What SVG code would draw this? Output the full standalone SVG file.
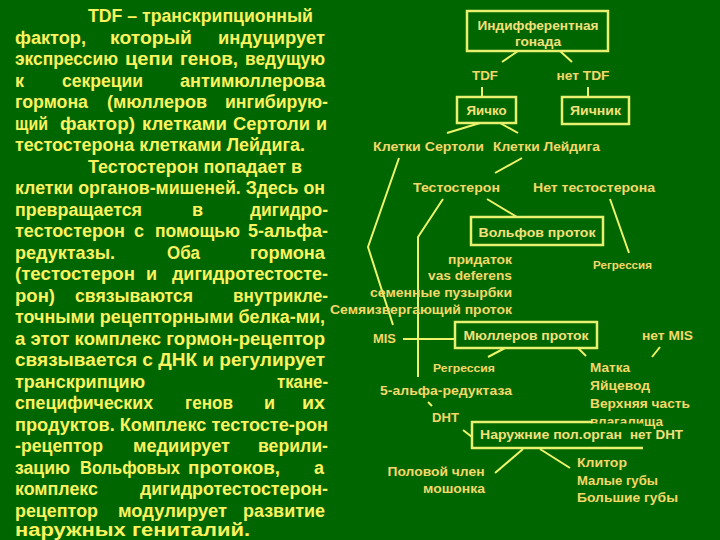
<svg xmlns="http://www.w3.org/2000/svg" width="720" height="540" viewBox="0 0 720 540">
<style>
text{font-family:"Liberation Sans",Arial,sans-serif;font-weight:bold}
.t{font-size:18px;fill:#fbf45e}
.l{font-size:13px;fill:#f4d868}
.s{font-size:11px;fill:#f4d868}
.bt{font-size:13.5px;fill:#f4e07a}
.m{text-anchor:middle}
.e{text-anchor:end}
.box{fill:#006600;stroke:#e8f070;stroke-width:2.5}
.ln{fill:none;stroke:#eef56a;stroke-width:2}
</style>
<rect width="720" height="540" fill="#006600"/>

<g id="explanation">
<text class="t" x="88" y="22" textLength="225" lengthAdjust="spacingAndGlyphs">TDF – транскрипционный</text>
<text class="t" x="15" y="43.5" textLength="71" lengthAdjust="spacingAndGlyphs">фактор,</text>
<text class="t" x="110" y="43.5" textLength="82" lengthAdjust="spacingAndGlyphs">который</text>
<text class="t" x="218" y="43.5" textLength="107" lengthAdjust="spacingAndGlyphs">индуцирует</text>
<text class="t" x="15" y="65" textLength="103" lengthAdjust="spacingAndGlyphs">экспрессию</text>
<text class="t" x="125" y="65" textLength="48" lengthAdjust="spacingAndGlyphs">цепи</text>
<text class="t" x="180" y="65" textLength="58" lengthAdjust="spacingAndGlyphs">генов,</text>
<text class="t" x="245" y="65" textLength="80" lengthAdjust="spacingAndGlyphs">ведущую</text>
<text class="t" x="15" y="86.5">к</text>
<text class="t" x="62" y="86.5" textLength="81" lengthAdjust="spacingAndGlyphs">секреции</text>
<text class="t" x="180" y="86.5" textLength="145" lengthAdjust="spacingAndGlyphs">антимюллерова</text>
<text class="t" x="15" y="108" textLength="73" lengthAdjust="spacingAndGlyphs">гормона</text>
<text class="t" x="107" y="108" textLength="100" lengthAdjust="spacingAndGlyphs">(мюллеров</text>
<text class="t" x="225" y="108" textLength="103" lengthAdjust="spacingAndGlyphs">ингибирую-</text>
<text class="t" x="15" y="129.5" textLength="33" lengthAdjust="spacingAndGlyphs">щий</text>
<text class="t" x="60" y="129.5" textLength="75" lengthAdjust="spacingAndGlyphs">фактор)</text>
<text class="t" x="142" y="129.5" textLength="85" lengthAdjust="spacingAndGlyphs">клетками</text>
<text class="t" x="233" y="129.5" textLength="77" lengthAdjust="spacingAndGlyphs">Сертоли</text>
<text class="t" x="316" y="129.5">и</text>
<text class="t" x="15" y="151" textLength="290" lengthAdjust="spacingAndGlyphs">тестостерона клетками Лейдига.</text>
<text class="t" x="88" y="172.5" textLength="214" lengthAdjust="spacingAndGlyphs">Тестостерон попадает в</text>
<text class="t" x="15" y="194" textLength="310" lengthAdjust="spacingAndGlyphs">клетки органов-мишеней. Здесь он</text>
<text class="t" x="15" y="215.5" textLength="127" lengthAdjust="spacingAndGlyphs">превращается</text>
<text class="t" x="192" y="215.5">в</text>
<text class="t" x="250" y="215.5" textLength="78" lengthAdjust="spacingAndGlyphs">дигидро-</text>
<text class="t" x="15" y="237" textLength="110" lengthAdjust="spacingAndGlyphs">тестостерон</text>
<text class="t" x="134" y="237">с</text>
<text class="t" x="155" y="237" textLength="85" lengthAdjust="spacingAndGlyphs">помощью</text>
<text class="t" x="248" y="237" textLength="80" lengthAdjust="spacingAndGlyphs">5-альфа-</text>
<text class="t" x="15" y="258.5" textLength="100" lengthAdjust="spacingAndGlyphs">редуктазы.</text>
<text class="t" x="167" y="258.5" textLength="33" lengthAdjust="spacingAndGlyphs">Оба</text>
<text class="t" x="250" y="258.5" textLength="75" lengthAdjust="spacingAndGlyphs">гормона</text>
<text class="t" x="15" y="280" textLength="120" lengthAdjust="spacingAndGlyphs">(тестостерон</text>
<text class="t" x="146" y="280">и</text>
<text class="t" x="172" y="280" textLength="156" lengthAdjust="spacingAndGlyphs">дигидротестосте-</text>
<text class="t" x="15" y="301.5" textLength="40" lengthAdjust="spacingAndGlyphs">рон)</text>
<text class="t" x="75" y="301.5" textLength="118" lengthAdjust="spacingAndGlyphs">связываются</text>
<text class="t" x="233" y="301.5" textLength="95" lengthAdjust="spacingAndGlyphs">внутрикле-</text>
<text class="t" x="15" y="323" textLength="310" lengthAdjust="spacingAndGlyphs">точными рецепторными белка-ми,</text>
<text class="t" x="15" y="344.5" textLength="310" lengthAdjust="spacingAndGlyphs">а этот комплекс гормон-рецептор</text>
<text class="t" x="15" y="366" textLength="310" lengthAdjust="spacingAndGlyphs">связывается с ДНК и регулирует</text>
<text class="t" x="15" y="387.5" textLength="130" lengthAdjust="spacingAndGlyphs">транскрипцию</text>
<text class="t" x="277" y="387.5" textLength="51" lengthAdjust="spacingAndGlyphs">ткане-</text>
<text class="t" x="15" y="409" textLength="138" lengthAdjust="spacingAndGlyphs">специфических</text>
<text class="t" x="185" y="409" textLength="48" lengthAdjust="spacingAndGlyphs">генов</text>
<text class="t" x="264" y="409">и</text>
<text class="t" x="302" y="409" textLength="23" lengthAdjust="spacingAndGlyphs">их</text>
<text class="t" x="15" y="430.5" textLength="313" lengthAdjust="spacingAndGlyphs">продуктов. Комплекс тестосте-рон</text>
<text class="t" x="15" y="452" textLength="88" lengthAdjust="spacingAndGlyphs">-рецептор</text>
<text class="t" x="133" y="452" textLength="97" lengthAdjust="spacingAndGlyphs">медиирует</text>
<text class="t" x="258" y="452" textLength="70" lengthAdjust="spacingAndGlyphs">верили-</text>
<text class="t" x="15" y="473.5" textLength="55" lengthAdjust="spacingAndGlyphs">зацию</text>
<text class="t" x="80" y="473.5" textLength="100" lengthAdjust="spacingAndGlyphs">Вольфовых</text>
<text class="t" x="188" y="473.5" textLength="92" lengthAdjust="spacingAndGlyphs">протоков,</text>
<text class="t" x="314" y="473.5">а</text>
<text class="t" x="15" y="495" textLength="83" lengthAdjust="spacingAndGlyphs">комплекс</text>
<text class="t" x="140" y="495" textLength="188" lengthAdjust="spacingAndGlyphs">дигидротестостерон-</text>
<text class="t" x="15" y="516.5" textLength="83" lengthAdjust="spacingAndGlyphs">рецептор</text>
<text class="t" x="118" y="516.5" textLength="109" lengthAdjust="spacingAndGlyphs">модулирует</text>
<text class="t" x="243" y="516.5" textLength="82" lengthAdjust="spacingAndGlyphs">развитие</text>
<text class="t" x="15" y="535.5" textLength="235" lengthAdjust="spacingAndGlyphs">наружных гениталий.</text>
</g>

<g id="connectors">
<line class="ln" x1="518" y1="51" x2="502" y2="62"/>
<line class="ln" x1="560" y1="51" x2="572" y2="62"/>
<line class="ln" x1="482" y1="87" x2="482" y2="97"/>
<line class="ln" x1="588" y1="87" x2="588" y2="97"/>
<line class="ln" x1="480" y1="123" x2="447" y2="133"/>
<line class="ln" x1="500" y1="123" x2="518" y2="133"/>
<line class="ln" x1="522" y1="158" x2="495" y2="173"/>
<polyline class="ln" points="399,158 368,247 393,325"/>
<line class="ln" x1="487" y1="199" x2="517" y2="217"/>
<polyline class="ln" points="443,199 418,237 418,377"/>
<line class="ln" x1="610" y1="199" x2="629" y2="253"/>
<line class="ln" x1="403" y1="339" x2="455" y2="339"/>
<line class="ln" x1="660" y1="347" x2="652" y2="357"/>
<line class="ln" x1="505" y1="348" x2="488" y2="357"/>
<line class="ln" x1="578" y1="348" x2="586" y2="356"/>
<line class="ln" x1="428" y1="402" x2="432" y2="406"/>
<line class="ln" x1="463" y1="430" x2="472" y2="437"/>
<line class="ln" x1="523" y1="449" x2="495" y2="473"/>
<line class="ln" x1="540" y1="449" x2="570" y2="468"/>
</g>

<g id="gonad">
<rect class="box" x="467" y="11" width="141" height="40"/>
<text class="bt m" x="538" y="30" textLength="121" lengthAdjust="spacingAndGlyphs">Индифферентная</text>
<text class="bt m" x="538" y="46" textLength="46" lengthAdjust="spacingAndGlyphs">гонада</text>
</g>
<g id="tdf"><text class="l m" x="485" y="80" textLength="26" lengthAdjust="spacingAndGlyphs">TDF</text></g>
<g id="no-tdf"><text class="l m" x="583" y="80" textLength="53" lengthAdjust="spacingAndGlyphs">нет TDF</text></g>
<g id="testis">
<rect class="box" x="457" y="97" width="59" height="26"/>
<text class="bt m" x="486.5" y="115" textLength="40" lengthAdjust="spacingAndGlyphs">Яичко</text>
</g>
<g id="ovary">
<rect class="box" x="562" y="97" width="67" height="27"/>
<text class="bt m" x="595.5" y="115" textLength="51" lengthAdjust="spacingAndGlyphs">Яичник</text>
</g>
<g id="sertoli"><text class="l" x="373" y="151" textLength="111" lengthAdjust="spacingAndGlyphs">Клетки Сертоли</text></g>
<g id="leydig"><text class="l" x="493" y="151" textLength="107" lengthAdjust="spacingAndGlyphs">Клетки Лейдига</text></g>
<g id="testosterone"><text class="l" x="413" y="192" textLength="87" lengthAdjust="spacingAndGlyphs">Тестостерон</text></g>
<g id="no-testosterone"><text class="l" x="533" y="192" textLength="122" lengthAdjust="spacingAndGlyphs">Нет тестостерона</text></g>
<g id="wolff">
<rect class="box" x="471" y="217" width="132" height="28"/>
<text class="bt m" x="537" y="237" textLength="117" lengthAdjust="spacingAndGlyphs">Вольфов проток</text>
</g>
<g id="regression-1"><text class="s" x="593" y="269" textLength="59" lengthAdjust="spacingAndGlyphs">Регрессия</text></g>
<g id="wolff-derivatives">
<text class="l e" x="512" y="264" textLength="64" lengthAdjust="spacingAndGlyphs">придаток</text>
<text class="l e" x="512" y="280" textLength="84" lengthAdjust="spacingAndGlyphs">vas deferens</text>
<text class="l e" x="512" y="297" textLength="142" lengthAdjust="spacingAndGlyphs">семенные пузырбки</text>
<text class="l e" x="512" y="314" textLength="182" lengthAdjust="spacingAndGlyphs">Семяизвергающий проток</text>
</g>
<g id="mis"><text class="l" x="373" y="343" textLength="23" lengthAdjust="spacingAndGlyphs">MIS</text></g>
<g id="muller">
<rect class="box" x="455" y="322" width="142" height="26"/>
<text class="bt m" x="526" y="340" textLength="125" lengthAdjust="spacingAndGlyphs">Мюллеров проток</text>
</g>
<g id="no-mis"><text class="l" x="642" y="340" textLength="51" lengthAdjust="spacingAndGlyphs">нет MIS</text></g>
<g id="regression-2"><text class="s" x="433" y="372" textLength="62" lengthAdjust="spacingAndGlyphs">Регрессия</text></g>
<g id="muller-derivatives">
<text class="l" x="590" y="372" textLength="40" lengthAdjust="spacingAndGlyphs">Матка</text>
<text class="l" x="590" y="390" textLength="60" lengthAdjust="spacingAndGlyphs">Яйцевод</text>
<text class="l" x="590" y="408" textLength="100" lengthAdjust="spacingAndGlyphs">Верхняя часть</text>
<text class="l" x="590" y="426" textLength="73" lengthAdjust="spacingAndGlyphs">влагалища</text>
</g>
<g id="reductase"><text class="l" x="380" y="395" textLength="132" lengthAdjust="spacingAndGlyphs">5-альфа-редуктаза</text></g>
<g id="dht"><text class="l" x="432" y="422" textLength="27" lengthAdjust="spacingAndGlyphs">DHT</text></g>
<g id="external">
<rect x="473" y="423.5" width="170" height="23.5" fill="#006600"/>
<path class="ln" style="stroke:#e8f070;stroke-width:2.5" d="M592,422 H472 V448 H643"/>
<text class="bt" x="480" y="439" textLength="142" lengthAdjust="spacingAndGlyphs">Наружние пол.орган</text>
<text class="bt" x="630" y="439" textLength="53" lengthAdjust="spacingAndGlyphs">нет DHT</text>
</g>
<g id="male-external">
<text class="l m" x="436" y="476" textLength="97" lengthAdjust="spacingAndGlyphs">Половой член</text>
<text class="l m" x="454" y="493" textLength="62" lengthAdjust="spacingAndGlyphs">мошонка</text>
</g>
<g id="female-external">
<text class="l" x="577" y="467" textLength="50" lengthAdjust="spacingAndGlyphs">Клитор</text>
<text class="l" x="577" y="485" textLength="81" lengthAdjust="spacingAndGlyphs">Малые губы</text>
<text class="l" x="577" y="502" textLength="101" lengthAdjust="spacingAndGlyphs">Большие губы</text>
</g>
</svg>
